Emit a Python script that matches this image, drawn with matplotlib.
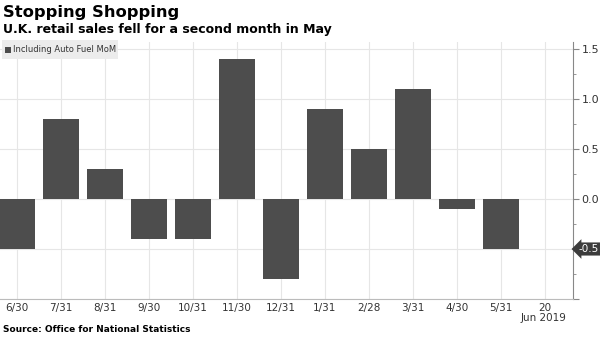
import matplotlib
matplotlib.use("Agg")
import matplotlib.pyplot as plt
from matplotlib.ticker import MultipleLocator, FuncFormatter
from matplotlib.patches import Rectangle

plt.rcParams['font.family'] = ['DejaVu Sans']

months = ["6/30", "7/31", "8/31", "9/30", "10/31", "11/30", "12/31",
          "1/31", "2/28", "3/31", "4/30", "5/31"]
mom = [-0.5, 0.8, 0.3, -0.4, -0.4, 1.4, -0.8, 0.9, 0.5, 1.1, -0.1, -0.5]
tick_labels = months + ["20"]
last_value = mom[-1]

bar_color = "#4d4d4d"
grid_color = "#e6e6e6"
text_color = "#333333"

fig = plt.figure(figsize=(6, 3.37), dpi=100)
ax = fig.add_axes([0.0, 1 - 299 / 337, 573 / 600, 257 / 337])

x = list(range(len(months)))
ax.bar(x, mom, width=0.82, color=bar_color, zorder=3)

ax.set_xlim(-17 / 44, 12.64)
ax.set_ylim(-1.0, 1.57)

ax.set_xticks(range(len(tick_labels)))
ax.set_xticklabels(tick_labels)
ax.yaxis.set_major_locator(MultipleLocator(0.5))
ax.yaxis.set_minor_locator(MultipleLocator(0.25))
ax.yaxis.tick_right()


def ylabel(v, p):
    if abs(v - last_value) < 1e-9 or v < -0.75:
        return ""
    return f"{v:.1f}"


ax.yaxis.set_major_formatter(FuncFormatter(ylabel))

ax.grid(True, which="major", color=grid_color, linewidth=0.8, zorder=0)
for s in ["top", "left"]:
    ax.spines[s].set_visible(False)
ax.spines["right"].set_color("#888888")
ax.spines["bottom"].set_color("#bbbbbb")

ax.tick_params(axis="y", which="both", direction="out", color="#888888",
               labelsize=8, labelcolor=text_color, pad=2, length=4)
ax.tick_params(axis="y", which="minor", length=2)
ax.tick_params(axis="x", length=0, labelsize=7.5, labelcolor=text_color, pad=3)

# last value tag on the right axis
ax.annotate(f"{last_value:.1f}", xy=(1.0, last_value), xycoords=("axes fraction", "data"),
            xytext=(4, 0), textcoords="offset points", va="center", ha="left",
            fontsize=7.5, color="white",
            bbox=dict(boxstyle="larrow,pad=0.15", fc="#3c3c3c", ec="none"))

# year label under last tick
fig.text(543 / 600, 1 - 318 / 337, "Jun 2019", ha="center", va="center",
         fontsize=7.5, color=text_color)

# legend box
fig.patches.append(Rectangle((2 / 600, 1 - 59 / 337), 116 / 600, 19 / 337,
                             transform=fig.transFigure, facecolor="#ececec",
                             edgecolor="none", zorder=5))
fig.patches.append(Rectangle((5 / 600, 1 - 53 / 337), 6 / 600, 6 / 337,
                             transform=fig.transFigure, facecolor=bar_color,
                             edgecolor="none", zorder=6))
fig.text(13 / 600, 1 - 50 / 337, "Including Auto Fuel MoM", fontsize=6,
         color=text_color, va="center", ha="left", zorder=7)

fig.text(3 / 600, 1 - 12 / 337, "Stopping Shopping", fontsize=11.8,
         fontweight="bold", color="black", va="center", ha="left")
fig.text(3 / 600, 1 - 30 / 337, "U.K. retail sales fell for a second month in May",
         fontsize=9, fontweight="bold", color="black", va="center", ha="left")
fig.text(3 / 600, 1 - 330 / 337, "Source: Office for National Statistics",
         fontsize=6.5, fontweight="bold", color="black", va="center", ha="left")

fig.savefig("out.png", dpi=100)
